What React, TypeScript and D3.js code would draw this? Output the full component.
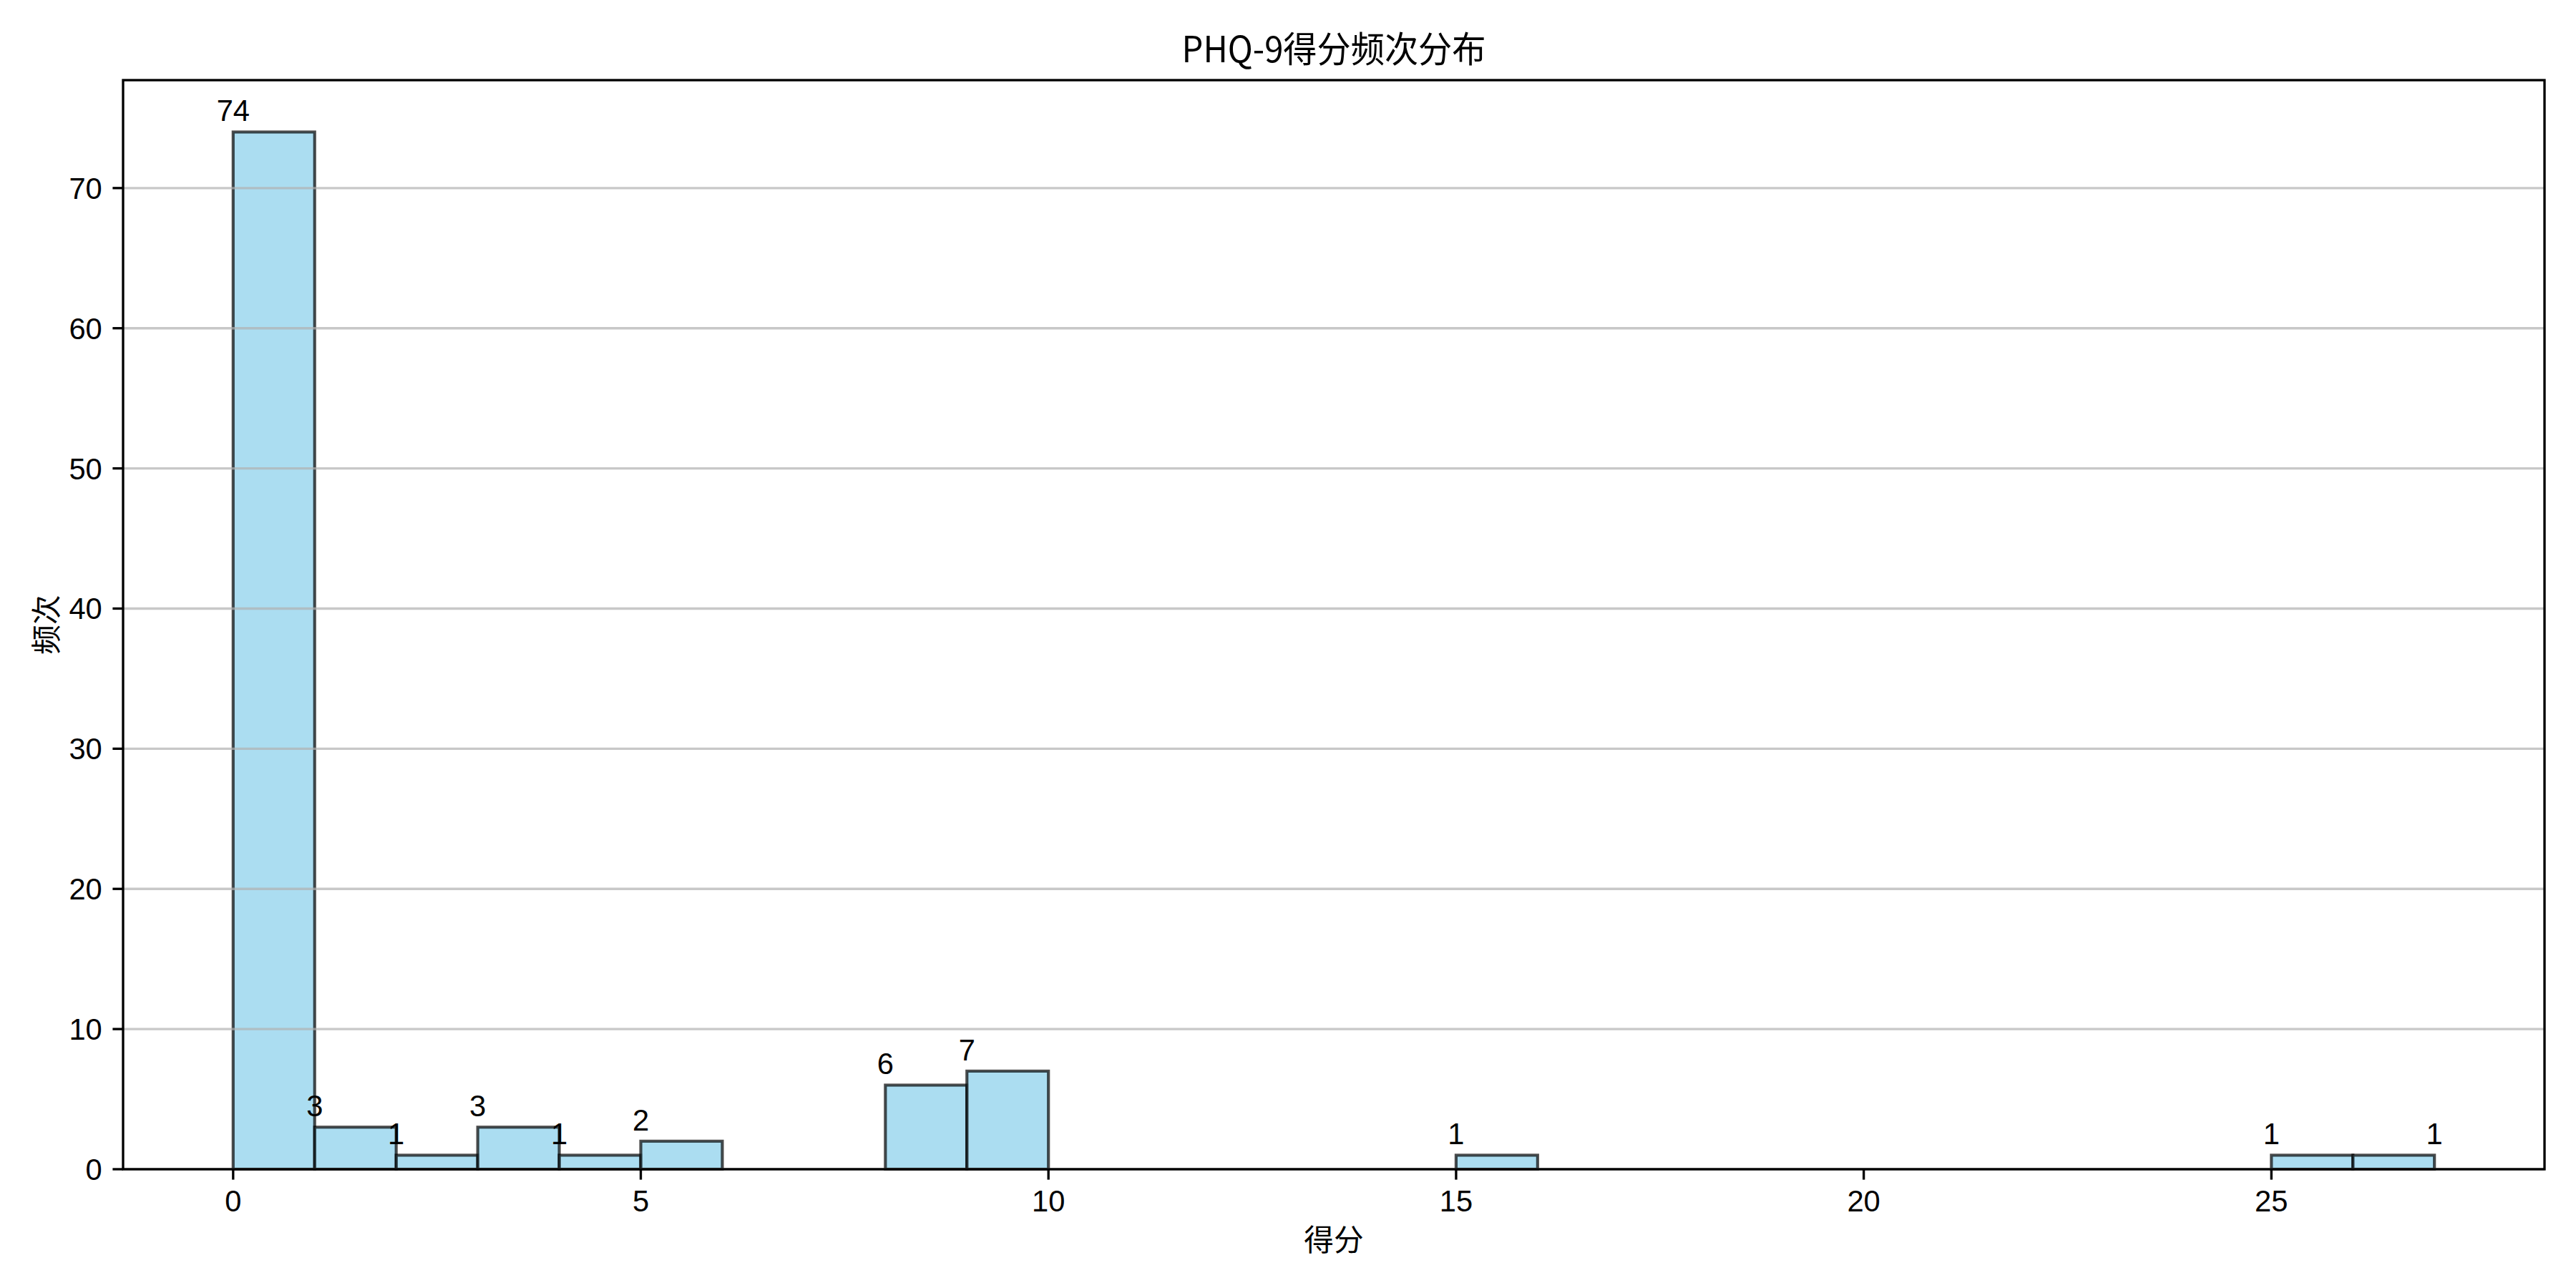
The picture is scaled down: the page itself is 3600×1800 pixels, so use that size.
import React from 'react';
import * as d3 from 'd3';

// PHQ-9 score values observed and how many respondents had each
const scores = [0, 1, 2, 3, 4, 5, 8, 9, 15, 25, 27];
const counts = [74, 3, 1, 3, 1, 2, 6, 7, 1, 1, 1];

const xTicks = [0, 5, 10, 15, 20, 25];
const yTicks = [0, 10, 20, 30, 40, 50, 60, 70];

const titleText = 'PHQ-9得分频次分布';
const xLabelText = '得分';
const yLabelText = '频次';

const W = 3600;
const H = 1800;
const plot = { left: 172, right: 3556, top: 112, bottom: 1634 };

const numFont = '"Liberation Sans", Arial, "DejaVu Sans", sans-serif';
const cjkFont = '"Noto Sans CJK SC", "Noto Sans", sans-serif';
const fs = 41.7;

export default function App() {
  // raw observations, binned into 27 unit-width bins over [0, 27]
  const raw = scores.flatMap((s, i) => Array(counts[i]).fill(s));
  const bins = d3
    .bin<number, number>()
    .domain([0, 27])
    .thresholds(d3.range(1, 27))(raw);

  const x = d3.scaleLinear().domain([-1.35, 28.35]).range([plot.left, plot.right]);
  const yMax = d3.max(bins, (b) => b.length)! * 1.05;
  const y = d3.scaleLinear().domain([0, yMax]).range([plot.bottom, plot.top]);

  const tickLen = 14.6;
  const lw = 3.33;

  return (
    <svg
      width={W}
      height={H}
      viewBox={`0 0 ${W} ${H}`}
      style={{ position: 'absolute', left: 0, top: 0, background: '#fff' }}
    >
      <rect x={0} y={0} width={W} height={H} fill="#fff" />

      {/* histogram bars */}
      <g>
        {bins
          .filter((b) => b.length > 0)
          .map((b, i) => (
            <rect
              key={i}
              x={x(b.x0!)}
              y={y(b.length)}
              width={x(b.x1!) - x(b.x0!)}
              height={y(0) - y(b.length)}
              fill="#87CEEB"
              fillOpacity={0.7}
              stroke="#000"
              strokeOpacity={0.7}
              strokeWidth={4.17}
            />
          ))}
      </g>

      {/* horizontal grid */}
      <g>
        {yTicks.map((t) => (
          <line
            key={t}
            x1={plot.left}
            x2={plot.right}
            y1={y(t)}
            y2={y(t)}
            stroke="#b0b0b0"
            strokeOpacity={0.7}
            strokeWidth={lw}
          />
        ))}
      </g>

      {/* value labels at each observed score */}
      <g fontFamily={numFont} fontSize={fs} textAnchor="middle" fill="#000">
        {scores.map((s, i) => (
          <text key={s} x={x(s)} y={y(counts[i]) - 15}>
            {counts[i]}
          </text>
        ))}
      </g>

      {/* frame */}
      <rect
        x={plot.left}
        y={plot.top}
        width={plot.right - plot.left}
        height={plot.bottom - plot.top}
        fill="none"
        stroke="#000"
        strokeWidth={lw}
      />

      {/* x axis ticks */}
      <g fontFamily={numFont} fontSize={fs} textAnchor="middle">
        {xTicks.map((t) => (
          <g key={t}>
            <line
              x1={x(t)}
              x2={x(t)}
              y1={plot.bottom}
              y2={plot.bottom + tickLen}
              stroke="#000"
              strokeWidth={lw}
            />
            <text x={x(t)} y={plot.bottom + 59}>
              {t}
            </text>
          </g>
        ))}
      </g>

      {/* y axis ticks */}
      <g fontFamily={numFont} fontSize={fs} textAnchor="end">
        {yTicks.map((t) => (
          <g key={t}>
            <line
              x1={plot.left - tickLen}
              x2={plot.left}
              y1={y(t)}
              y2={y(t)}
              stroke="#000"
              strokeWidth={lw}
            />
            <text x={plot.left - 2 * tickLen} y={y(t) + 15}>
              {t}
            </text>
          </g>
        ))}
      </g>

      {/* title */}
      <text
        x={(plot.left + plot.right) / 2}
        y={87}
        fontFamily={cjkFont}
        fontSize={50}
        textAnchor="middle"
        textLength={425}
        lengthAdjust="spacingAndGlyphs"
      >
        {titleText}
      </text>

      {/* axis labels */}
      <text
        x={(plot.left + plot.right) / 2}
        y={1748}
        fontFamily={cjkFont}
        fontSize={fs}
        textAnchor="middle"
      >
        {xLabelText}
      </text>
      <text
        transform={`translate(80, ${(plot.top + plot.bottom) / 2}) rotate(-90)`}
        fontFamily={cjkFont}
        fontSize={fs}
        textAnchor="middle"
      >
        {yLabelText}
      </text>
    </svg>
  );
}
